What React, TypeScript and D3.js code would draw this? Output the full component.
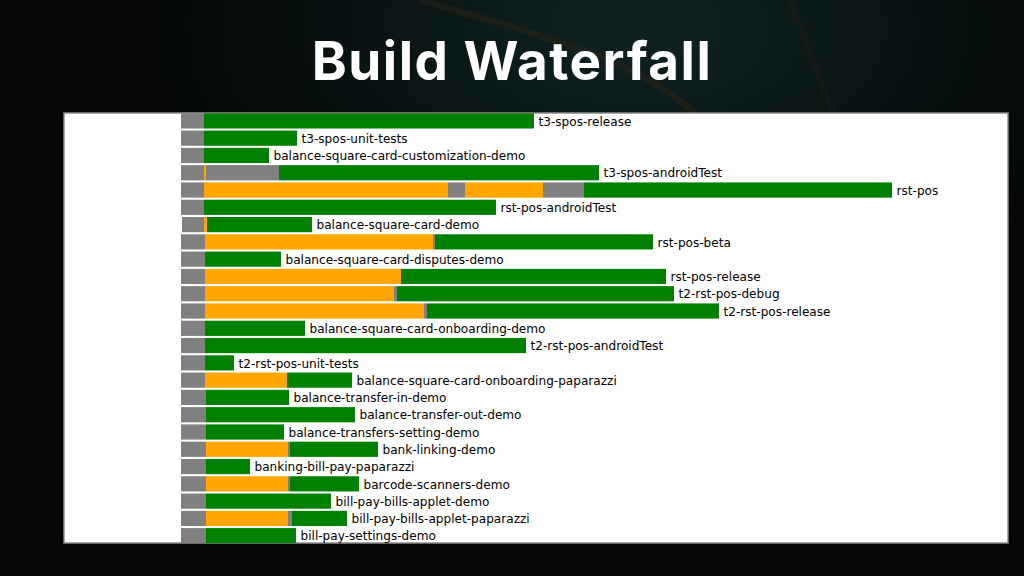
import React from "react";
import * as d3 from "d3";

const W = 1024;
const H = 576;

const title = "Build Waterfall";

const taskNames = [
  "t3-spos-release",
  "t3-spos-unit-tests",
  "balance-square-card-customization-demo",
  "t3-spos-androidTest",
  "rst-pos",
  "rst-pos-androidTest",
  "balance-square-card-demo",
  "rst-pos-beta",
  "balance-square-card-disputes-demo",
  "rst-pos-release",
  "t2-rst-pos-debug",
  "t2-rst-pos-release",
  "balance-square-card-onboarding-demo",
  "t2-rst-pos-androidTest",
  "t2-rst-pos-unit-tests",
  "balance-square-card-onboarding-paparazzi",
  "balance-transfer-in-demo",
  "balance-transfer-out-demo",
  "balance-transfers-setting-demo",
  "bank-linking-demo",
  "banking-bill-pay-paparazzi",
  "barcode-scanners-demo",
  "bill-pay-bills-applet-demo",
  "bill-pay-bills-applet-paparazzi",
  "bill-pay-settings-demo",
];

// phase kinds: q = waiting (gray), b = building (orange), t = running (green)
type Seg = [string, number, number];
const taskPhases: Seg[][] = [
  [["q", 0, 23], ["t", 23, 353]],
  [["q", 0, 23], ["t", 23, 116]],
  [["q", 0, 23], ["t", 23, 88]],
  [["q", 0, 23], ["b", 23, 25], ["q", 25, 98], ["t", 98, 418]],
  [["q", 0, 23], ["b", 23, 267], ["q", 267, 284], ["b", 284, 362], ["q", 362, 403], ["t", 403, 711]],
  [["q", 0, 23], ["t", 23, 315]],
  [["q", 1, 23], ["b", 23, 26], ["t", 26, 131]],
  [["q", 0, 24], ["b", 24, 252], ["q", 252, 254], ["t", 254, 472]],
  [["q", 0, 24], ["t", 24, 100]],
  [["q", 0, 24], ["b", 24, 220], ["t", 220, 485]],
  [["q", 0, 24], ["b", 24, 213], ["q", 213, 216], ["t", 216, 493]],
  [["q", 0, 24], ["b", 24, 243], ["q", 243, 246], ["t", 246, 538]],
  [["q", 0, 24], ["t", 24, 124]],
  [["q", 0, 24], ["t", 24, 345]],
  [["q", 0, 24], ["t", 24, 53]],
  [["q", 0, 24], ["b", 24, 106], ["t", 106, 171]],
  [["q", 0, 25], ["t", 25, 108]],
  [["q", 0, 25], ["t", 25, 174]],
  [["q", 0, 25], ["t", 25, 103]],
  [["q", 0, 25], ["b", 25, 107], ["q", 107, 109], ["t", 109, 197]],
  [["q", 0, 25], ["t", 25, 69]],
  [["q", 0, 25], ["b", 25, 107], ["q", 107, 109], ["t", 109, 178]],
  [["q", 0, 25], ["t", 25, 150]],
  [["q", 0, 25], ["b", 25, 107], ["q", 107, 111], ["t", 111, 166]],
  [["q", 0, 25], ["t", 25, 115]],
];

const kinds = ["q", "b", "t"];
const kindColors = ["#808080", "#FFA500", "#008000"];

export default function App() {
  const panel = { x: 64, y: 113, w: 944, h: 430 };
  const x = d3.scaleLinear().domain([0, 843]).range([181, 1024]);
  const y = d3
    .scaleBand<string>()
    .domain(taskNames)
    .range([113.3, 113.3 + 25 * 17.2])
    .paddingInner(0.12)
    .paddingOuter(0);
  const color = d3.scaleOrdinal<string, string>().domain(kinds).range(kindColors);

  return (
    <svg
      width={W}
      height={H}
      style={{ position: "absolute", left: 0, top: 0, display: "block" }}
    >
      <defs>
        <radialGradient id="glow" cx="0.62" cy="0.05" r="0.5">
          <stop offset="0%" stopColor="#0e2222" />
          <stop offset="100%" stopColor="#050606" />
        </radialGradient>
        <clipPath id="panelClip">
          <rect x={panel.x} y={panel.y} width={panel.w} height={panel.h} />
        </clipPath>
      </defs>
      <rect x={0} y={0} width={W} height={H} fill="#040506" />
      <rect x={0} y={0} width={W} height={H} fill="url(#glow)" />
      <path
        d="M 420 0 C 520 30, 650 60, 700 120"
        fill="none"
        stroke="#3a2a14"
        strokeWidth={7}
        opacity={0.35}
      />
      <path
        d="M 790 0 C 805 40, 820 80, 835 120"
        fill="none"
        stroke="#2a1f10"
        strokeWidth={6}
        opacity={0.3}
      />
      <text
        x={512}
        y={80}
        textAnchor="middle"
        fill="#ffffff"
        fontFamily="Inter, 'Open Sans', sans-serif"
        fontWeight={700}
        fontSize={53}
        letterSpacing={1.5}
      >
        {title}
      </text>
      <rect
        x={panel.x}
        y={panel.y}
        width={panel.w}
        height={panel.h}
        fill="#ffffff"
        stroke="#8a8a8a"
        strokeWidth={1.5}
      />
      <g clipPath="url(#panelClip)">
        {taskNames.map((name, i) => {
          const segs = taskPhases[i];
          const yy = y(name) as number;
          const end = segs[segs.length - 1][2];
          return (
            <g key={name}>
              {segs.map((s, j) => (
                <rect
                  key={j}
                  x={x(s[1])}
                  y={yy}
                  width={x(s[2]) - x(s[1])}
                  height={y.bandwidth()}
                  fill={color(s[0])}
                />
              ))}
              <text
                x={x(end) + 4.5}
                y={yy + y.bandwidth() / 2 + 0.5}
                dy="0.35em"
                fill="#000000"
                fontFamily="'DejaVu Sans', sans-serif"
                fontSize={12.1}
              >
                {name}
              </text>
            </g>
          );
        })}
      </g>
    </svg>
  );
}
